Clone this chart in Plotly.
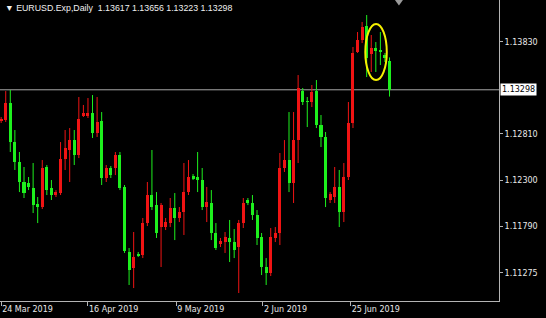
import plotly.graph_objects as go
import datetime as dt

symbol = "EURUSD.Exp,Daily"

opens = [1.12953, 1.12964, 1.13152, 1.12720, 1.12499, 1.12278, 1.12267, 1.12212, 1.12035, 1.12001,
         1.12444, 1.12212, 1.12134, 1.12156, 1.12532, 1.12632, 1.12742, 1.12577, 1.13019, 1.13019,
         1.13041, 1.12820, 1.12953, 1.12322, 1.12433, 1.12433, 1.12577, 1.12223, 1.11504, 1.11327,
         1.11482, 1.11470, 1.11824, 1.12134, 1.12023, 1.11780, 1.11780, 1.11824, 1.11990, 1.11880,
         1.11946, 1.12167, 1.12344, 1.12333, 1.12300, 1.12001, 1.12046, 1.11714, 1.11592, 1.11614,
         1.11659, 1.11614, 1.11559, 1.11824, 1.12079, 1.12046, 1.11913, 1.11670, 1.11338, 1.11271,
         1.11659, 1.11714, 1.12433, 1.12521, 1.12267, 1.12742, 1.13284, 1.13174, 1.13163, 1.13284,
         1.12908, 1.12776, 1.12079, 1.12112, 1.12223, 1.11946, 1.12333, 1.12931, 1.13716, 1.13849,
         1.14003, 1.13694, 1.13760, 1.13738, 1.13683, 1.13617]
highs = [1.12997, 1.13284, 1.13296, 1.12853, 1.12610, 1.12444, 1.12333, 1.12488, 1.12112, 1.12521,
         1.12466, 1.12300, 1.12189, 1.12720, 1.12853, 1.12875, 1.12853, 1.13218, 1.13130, 1.13207,
         1.13240, 1.13218, 1.13052, 1.12466, 1.12455, 1.12610, 1.12610, 1.12245, 1.11548, 1.11725,
         1.11504, 1.11880, 1.12278, 1.12632, 1.12167, 1.12046, 1.11880, 1.12101, 1.12156, 1.12001,
         1.12488, 1.12521, 1.12366, 1.12610, 1.12433, 1.12223, 1.12189, 1.11824, 1.11659, 1.11725,
         1.11858, 1.11758, 1.11858, 1.12101, 1.12101, 1.12134, 1.11968, 1.11714, 1.11437, 1.11769,
         1.11780, 1.12599, 1.12742, 1.13052, 1.13052, 1.13461, 1.13318, 1.13218, 1.13351, 1.13406,
         1.13019, 1.12831, 1.12167, 1.12444, 1.12411, 1.12488, 1.13163, 1.13771, 1.13937, 1.14048,
         1.14125, 1.13904, 1.13826, 1.13937, 1.13705, 1.13656]
lows = [1.12931, 1.12942, 1.12610, 1.12411, 1.12167, 1.12101, 1.12189, 1.11935, 1.11824, 1.11979,
        1.12134, 1.12079, 1.12112, 1.12134, 1.12411, 1.12278, 1.12466, 1.12543, 1.12997, 1.12986,
        1.12765, 1.12776, 1.12245, 1.12278, 1.12322, 1.12355, 1.12189, 1.11493, 1.11139, 1.11105,
        1.11448, 1.11437, 1.11791, 1.11968, 1.11659, 1.11338, 1.11747, 1.11780, 1.11636, 1.11835,
        1.11692, 1.12134, 1.12300, 1.12167, 1.11968, 1.11835, 1.11636, 1.11526, 1.11559, 1.11493,
        1.11393, 1.11437, 1.11050, 1.11769, 1.12023, 1.11858, 1.11581, 1.11249, 1.11139, 1.11238,
        1.11614, 1.11581, 1.12389, 1.12167, 1.12046, 1.12488, 1.13130, 1.12886, 1.13107, 1.12875,
        1.12665, 1.12001, 1.12046, 1.12046, 1.11780, 1.11835, 1.12300, 1.12875, 1.13705, 1.13815,
        1.13439, 1.13495, 1.13495, 1.13572, 1.13605, 1.13223]
closes = [1.12975, 1.13152, 1.12720, 1.12499, 1.12278, 1.12156, 1.12223, 1.12023, 1.12001, 1.12433,
          1.12189, 1.12134, 1.12167, 1.12532, 1.12654, 1.12742, 1.12577, 1.12975, 1.13041, 1.13041,
          1.12820, 1.12942, 1.12322, 1.12433, 1.12355, 1.12577, 1.12212, 1.11515, 1.11305, 1.11448,
          1.11470, 1.11824, 1.12134, 1.12001, 1.11714, 1.12023, 1.11835, 1.11990, 1.11880, 1.11946,
          1.12167, 1.12333, 1.12322, 1.12300, 1.12001, 1.12057, 1.11714, 1.11548, 1.11625, 1.11670,
          1.11614, 1.11526, 1.11824, 1.12046, 1.12046, 1.11913, 1.11659, 1.11338, 1.11271, 1.11670,
          1.11714, 1.12433, 1.12521, 1.12267, 1.12742, 1.13318, 1.13163, 1.13163, 1.13273, 1.12908,
          1.12776, 1.12101, 1.12145, 1.12223, 1.11946, 1.12333, 1.12931, 1.13705, 1.13849, 1.13992,
          1.13649, 1.13760, 1.13738, 1.13716, 1.13649, 1.13298]

tick_labels = ["24 Mar 2019", "16 Apr 2019", "9 May 2019", "2 Jun 2019", "25 Jun 2019"]
price_ticks = [1.13830, 1.12810, 1.12300, 1.11790, 1.11275]
marked = [81, 82, 83, 84]  # bars circled in yellow

n = len(opens)
# trading days (Sunday-Friday bars, no Saturday)
dates = []
d = dt.date(2019, 3, 24)
while len(dates) < n:
    if d.weekday() != 5:
        dates.append(d.isoformat())
    d += dt.timedelta(days=1)
x = list(range(n))

UP = "#f01414"
DN = "#1ef01e"

fig = go.Figure()
for color, cond in ((UP, lambda o, c: c >= o), (DN, lambda o, c: c < o)):
    idx = [i for i in x if cond(opens[i], closes[i])]
    wx, wy = [], []
    for i in idx:
        wx += [i, i, None]
        wy += [lows[i], highs[i], None]
    fig.add_trace(go.Scatter(x=wx, y=wy, mode="lines", line=dict(color=color, width=1),
                             hoverinfo="skip", showlegend=False))
    fig.add_trace(go.Bar(x=idx,
                         base=[min(opens[i], closes[i]) for i in idx],
                         y=[max(abs(closes[i] - opens[i]), 0.00006) for i in idx],
                         width=0.66, marker=dict(color=color, line=dict(width=0)),
                         customdata=[dates[i] for i in idx],
                         hovertemplate="%{customdata}<extra></extra>", showlegend=False))

tick_pos = [0, 19.0, 38.3, 57.3, 76.5]

fig.update_layout(
    width=546, height=318,
    margin=dict(l=0, r=47, t=0, b=17),
    paper_bgcolor="black", plot_bgcolor="black",
    barmode="overlay", bargap=0,
    font=dict(family="DejaVu Sans", size=8, color="#e8e8e8"),
    xaxis=dict(range=[-0.252, 108.96], showgrid=False, zeroline=False,
               showline=True, linecolor="#b4b4b4", linewidth=1,
               tickvals=tick_pos, ticktext=tick_labels, ticks="outside", ticklen=4,
               tickcolor="#b4b4b4", ticklabelposition="outside right",
               tickfont=dict(family="DejaVu Sans", size=8, color="#e8e8e8")),
    yaxis=dict(range=[1.109619, 1.142912], side="right", showgrid=False, zeroline=False,
               showline=True, mirror=True, linecolor="#b4b4b4", linewidth=1,
               tickvals=price_ticks, ticktext=[f"{v:.5f}" for v in price_ticks],
               ticks="outside", ticklen=3, tickcolor="#b4b4b4",
               tickfont=dict(family="DejaVu Sans", size=8, color="#e8e8e8")),
)

last_close = closes[-1]
fig.add_shape(type="line", xref="paper", x0=0, x1=1, yref="y", y0=last_close, y1=last_close,
              line=dict(color="#a8a8a8", width=1), layer="below")
fig.add_annotation(xref="paper", x=1, xanchor="left", xshift=1, yref="y", y=last_close,
                   text=f"{last_close:.5f}", showarrow=False, bgcolor="white",
                   font=dict(color="black", size=8, family="DejaVu Sans"), borderpad=1)

# yellow ellipse around the marked bars
ylo = min(lows[i] for i in marked) - 0.0009
yhi = max(highs[i] for i in marked) + 0.0009
fig.add_shape(type="circle", xref="x", yref="y", x0=marked[0] - 1.3, x1=marked[-1] + 0.4,
              y0=ylo, y1=yhi, line=dict(color="#f5f000", width=2))

# chart shift marker
fig.add_shape(type="path", xref="paper", yref="paper",
              path="M 0.7915 1.0 L 0.8075 1.0 L 0.7995 0.982 Z",
              fillcolor="#9a9a9a", line=dict(width=0))

header = f"▼ {symbol}\u00a0\u00a0{opens[-1]:.5f} {highs[-1]:.5f} {lows[-1]:.5f} {closes[-1]:.5f}"
fig.add_annotation(xref="paper", yref="paper", x=0, y=1, xanchor="left", yanchor="top",
                   xshift=3, yshift=-1, text=header, showarrow=False,
                   font=dict(family="Liberation Sans", size=8.8, color="#f0f0f0"))

fig.write_html("out.html")
